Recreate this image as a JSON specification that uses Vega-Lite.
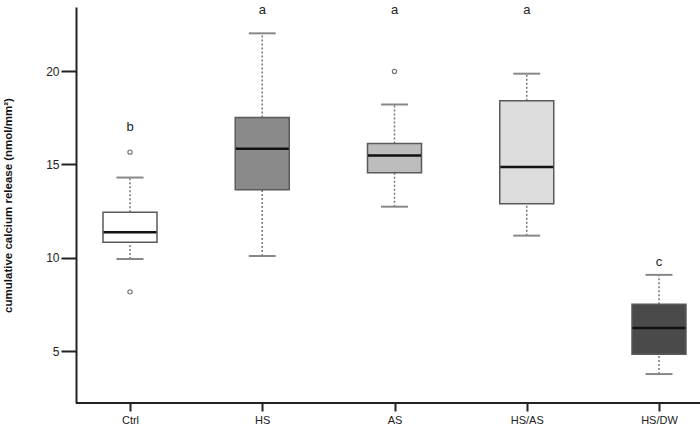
{
  "$schema": "https://vega.github.io/schema/vega-lite/v6.json",
  "autosize": {"type": "none"},
  "padding": {"left": 76, "top": 7, "right": 0, "bottom": 22},
  "width": 624,
  "height": 396,
  "background": "white",
  "config": {
    "view": {"stroke": null},
    "font": "Liberation Sans",
    "axis": {"grid": false}
  },
  "datasets": {
    "stats": [
      {"group": "Ctrl", "lower": 9.94, "q1": 10.83, "median": 11.37, "q3": 12.44, "upper": 14.30},
      {"group": "HS", "lower": 10.10, "q1": 13.64, "median": 15.84, "q3": 17.52, "upper": 22.02},
      {"group": "AS", "lower": 12.74, "q1": 14.55, "median": 15.48, "q3": 16.12, "upper": 18.21},
      {"group": "HS/AS", "lower": 11.19, "q1": 12.90, "median": 14.86, "q3": 18.41, "upper": 19.86},
      {"group": "HS/DW", "lower": 3.78, "q1": 4.84, "median": 6.25, "q3": 7.51, "upper": 9.09}
    ],
    "outliers": [
      {"group": "Ctrl", "value": 15.66},
      {"group": "Ctrl", "value": 8.18},
      {"group": "AS", "value": 19.98}
    ],
    "letters": [
      {"group": "Ctrl", "label": "b", "pos": 17.0},
      {"group": "HS", "label": "a", "pos": 23.25},
      {"group": "AS", "label": "a", "pos": 23.25},
      {"group": "HS/AS", "label": "a", "pos": 23.25},
      {"group": "HS/DW", "label": "c", "pos": 9.8}
    ]
  },
  "encoding": {
    "x": {
      "field": "group",
      "type": "nominal",
      "sort": ["Ctrl", "HS", "AS", "HS/AS", "HS/DW"],
      "scale": {"type": "point", "range": [54, 583], "padding": 0},
      "axis": {
        "title": null,
        "domain": false,
        "labelAngle": 0,
        "labelFontSize": 11,
        "labelColor": "#222",
        "labelPadding": 3,
        "tickSize": 8,
        "tickWidth": 2,
        "tickColor": "#222"
      }
    }
  },
  "layer": [
    {
      "data": {"name": "stats"},
      "mark": {"type": "rule", "color": "#777", "strokeWidth": 1.5, "strokeDash": [2, 2]},
      "encoding": {
        "y": {
          "field": "lower",
          "type": "quantitative",
          "scale": {"domain": [2.23, 23.43], "nice": false, "zero": false},
          "axis": {
            "title": "cumulative calcium release (nmol/mm²)",
            "titleFontWeight": "bold",
            "titleFontSize": 11.5,
            "titleColor": "#111",
            "titleX": -63,
            "titleY": 198,
            "titleAngle": 270,
            "titleBaseline": "bottom",
            "values": [5, 10, 15, 20],
            "tickSize": 15,
            "tickWidth": 2,
            "tickColor": "#222",
            "domainColor": "#222",
            "domainWidth": 2,
            "labelFontSize": 12,
            "labelColor": "#222",
            "labelPadding": 2
          }
        },
        "y2": {"field": "q1"}
      }
    },
    {
      "data": {"name": "stats"},
      "mark": {"type": "rule", "color": "#777", "strokeWidth": 1.5, "strokeDash": [2, 2]},
      "encoding": {
        "y": {"field": "q3", "type": "quantitative"},
        "y2": {"field": "upper"}
      }
    },
    {
      "data": {"name": "stats"},
      "mark": {"type": "tick", "color": "#888", "size": 27, "thickness": 2, "opacity": 1},
      "encoding": {"y": {"field": "lower", "type": "quantitative"}}
    },
    {
      "data": {"name": "stats"},
      "mark": {"type": "tick", "color": "#888", "size": 27, "thickness": 2, "opacity": 1},
      "encoding": {"y": {"field": "upper", "type": "quantitative"}}
    },
    {
      "data": {"name": "stats"},
      "mark": {"type": "bar", "size": 54, "stroke": "#5a5a5a", "strokeWidth": 1.5, "opacity": 1},
      "encoding": {
        "y": {"field": "q1", "type": "quantitative"},
        "y2": {"field": "q3"},
        "fill": {
          "field": "group",
          "type": "nominal",
          "scale": {
            "domain": ["Ctrl", "HS", "AS", "HS/AS", "HS/DW"],
            "range": ["#ffffff", "#8a8a8a", "#bdbdbd", "#dcdcdc", "#4a4a4a"]
          },
          "legend": null
        }
      }
    },
    {
      "data": {"name": "stats"},
      "mark": {"type": "tick", "color": "#111", "size": 53, "thickness": 2.5, "opacity": 1},
      "encoding": {"y": {"field": "median", "type": "quantitative"}}
    },
    {
      "data": {"name": "outliers"},
      "mark": {"type": "point", "shape": "circle", "filled": false, "size": 18, "stroke": "#777", "strokeWidth": 1.2, "opacity": 1},
      "encoding": {"y": {"field": "value", "type": "quantitative"}}
    },
    {
      "data": {"name": "letters"},
      "mark": {"type": "text", "fontSize": 13, "color": "#222", "baseline": "middle", "clip": false},
      "encoding": {
        "y": {"field": "pos", "type": "quantitative"},
        "text": {"field": "label"}
      }
    },
    {
      "data": {"values": [{"base": 2.23}]},
      "mark": {"type": "rule", "color": "#222", "strokeWidth": 2},
      "encoding": {
        "x": {"value": 0},
        "x2": {"value": 700},
        "y": {"field": "base", "type": "quantitative"}
      }
    }
  ]
}
